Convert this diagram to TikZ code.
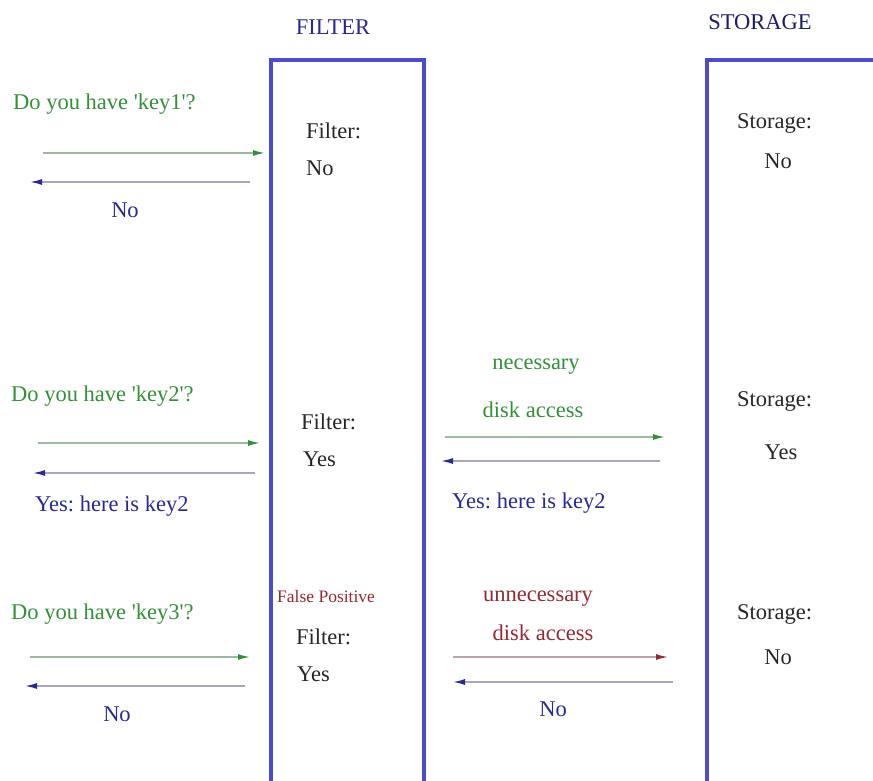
\documentclass[tikz,border=0pt]{standalone}
\usepackage{fontspec}
\setmainfont{Liberation Serif}
\usetikzlibrary{arrows.meta}
\definecolor{askgreen}{RGB}{50,145,55}
\definecolor{ansblue}{RGB}{40,40,150}
\definecolor{fpred}{RGB}{150,40,50}
\definecolor{boxblue}{RGB}{75,75,205}
\frenchspacing
\begin{document}
\begin{tikzpicture}[x=1pt,y=-1pt,
  every node/.style={inner sep=0pt,font=\fontsize{22.5}{26}\selectfont},
  lbl/.style={anchor=west,text=black!85},
  ask/.style={anchor=west,text=askgreen},
  ans/.style={text=ansblue},
  miss/.style={text=fpred},
  wall/.style={draw=boxblue,line width=3.4pt},
  askarrow/.style={draw=askgreen!45!gray!60,line width=1.5pt,-{Latex[length=12pt,width=6pt,color=askgreen]}},
  ansarrow/.style={draw=ansblue!40!gray!55,line width=1.5pt,-{Latex[length=12pt,width=6pt,color=ansblue]}},
  missarrow/.style={draw=fpred!45!gray!55,line width=1.5pt,-{Latex[length=12pt,width=6pt,color=fpred]}}]
\useasboundingbox (0,0) rectangle (873,781);
% the two columns
\node[text=ansblue] (filterhead) at (333,27) {FILTER};
\node[text=ansblue!70!black] (storehead) at (760,22) {STORAGE};
\draw[wall] (271,781) -- (271,60) -- (424,60) -- (424,781);
\draw[wall] (707,781) -- (707,60) -- (873,60);

% key1: filter says no
\node[ask] (q1) at (13,104) {Do you have \textquotesingle key1\textquotesingle?};
\coordinate (q1a) at (43,153);
\coordinate (q1b) at (265,153);
\coordinate (r1a) at (250,182);
\coordinate (r1b) at (30,182);
\draw[askarrow] (q1a) -- (q1b);
\draw[ansarrow] (r1a) -- (r1b);
\node[ans] (r1) at (125,210) {No};
\node[lbl] (f1) at (306,131) {Filter:};
\node[lbl] (f1v) at (306,168) {No};
\node[lbl] (s1) at (737,123) {Storage:};
\node[text=black!85] (s1v) at (778,161) {No};

% key2: filter says yes, storage has it
\node[ask] (q2) at (11,396) {Do you have \textquotesingle key2\textquotesingle?};
\coordinate (q2a) at (38,443);
\coordinate (q2b) at (260,443);
\coordinate (r2a) at (255,473);
\coordinate (r2b) at (33,473);
\draw[askarrow] (q2a) -- (q2b);
\draw[ansarrow] (r2a) -- (r2b);
\node[ans,anchor=west] (r2) at (35,506) {Yes: here is key2};
\node[lbl] (f2) at (301,422) {Filter:};
\node[lbl] (f2v) at (303,459) {Yes};
\node[text=askgreen] (d2) at (536,367) {necessary};
\node[text=askgreen] (d2b) at (533,410) {disk access};
\coordinate (d2a) at (445,437);
\coordinate (d2c) at (665,437);
\coordinate (t2a) at (660,461);
\coordinate (t2b) at (441,461);
\draw[askarrow] (d2a) -- (d2c);
\draw[ansarrow] (t2a) -- (t2b);
\node[ans,anchor=west] (t2) at (452,503) {Yes: here is key2};
\node[lbl] (s2) at (737,401) {Storage:};
\node[text=black!85] (s2v) at (781,452) {Yes};

% key3: false positive
\node[ask] (q3) at (11,614) {Do you have \textquotesingle key3\textquotesingle?};
\coordinate (q3a) at (30,657);
\coordinate (q3b) at (250,657);
\coordinate (r3a) at (245,686);
\coordinate (r3b) at (25,686);
\draw[askarrow] (q3a) -- (q3b);
\draw[ansarrow] (r3a) -- (r3b);
\node[ans] (r3) at (117,714) {No};
\node[miss,anchor=west,font=\fontsize{17.5}{19}\selectfont] (fp) at (277,597) {False Positive};
\node[lbl] (f3) at (296,637) {Filter:};
\node[lbl] (f3v) at (297,674) {Yes};
\node[miss] (d3) at (538,599) {unnecessary};
\node[miss] (d3b) at (543,633) {disk access};
\coordinate (d3a) at (453,657);
\coordinate (d3c) at (668,657);
\coordinate (t3a) at (673,682);
\coordinate (t3b) at (453,682);
\draw[missarrow] (d3a) -- (d3c);
\draw[ansarrow] (t3a) -- (t3b);
\node[ans] (t3) at (553,709) {No};
\node[lbl] (s3) at (737,614) {Storage:};
\node[text=black!85] (s3v) at (778,657) {No};
\end{tikzpicture}
\end{document}
